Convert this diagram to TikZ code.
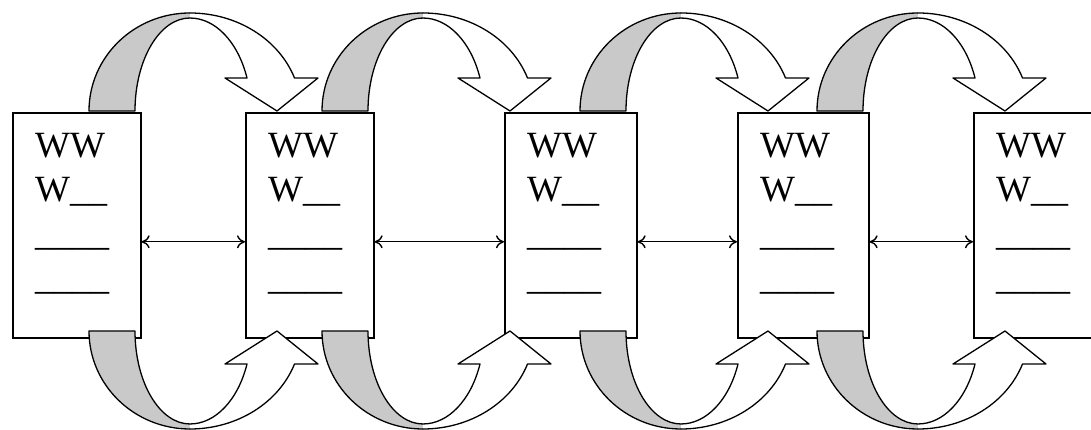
\documentclass[tikz,border=0pt]{standalone}
\usepackage{fontspec}
\setmainfont{Liberation Serif}
\usetikzlibrary{arrows.meta}
\tikzset{
  boxnode/.style={draw, line width=1.6pt, minimum height=225pt, inner sep=0pt, anchor=north west, fill=white},
  txt/.style={anchor=base west, inner sep=0pt, font=\fontsize{37}{44}\selectfont},
  band/.style={line width=1.3pt, line join=round, line cap=round},
  backfill/.style={fill=black!21},
  frontfill/.style={fill=white},
  link/.style={{To[length=8pt,width=13pt]}-{To[length=8pt,width=13pt]}, line width=1.4pt}
}
\newcommand\mycurvedarrow{%
  % back (shaded) part
  \fill[backfill] (0,0) arc[start angle=180,end angle=90,x radius=101,y radius=98]
     -- (101,93) arc[start angle=90,end angle=180,x radius=55,y radius=93] -- cycle;
  \draw[band] (101,98) arc[start angle=90,end angle=180,x radius=101,y radius=98]
     -- (46,0) arc[start angle=180,end angle=90,x radius=55,y radius=93];
  % front part with head
  \fill[frontfill] (101,98) arc[start angle=90,end angle=19.7,x radius=111,y radius=98]
     -- (229,33) -- (188,0) -- (136,33) -- (158,33)
     arc[start angle=20.8,end angle=90,x radius=61,y radius=93] -- cycle;
  \draw[band] (101,98) arc[start angle=90,end angle=19.7,x radius=111,y radius=98]
     -- (229,33) -- (188,0) -- (136,33) -- (158,33)
     arc[start angle=20.8,end angle=90,x radius=61,y radius=93];
}
\begin{document}
\begin{tikzpicture}[x=1pt,y=1pt]
\useasboundingbox (0,0) rectangle (1091,430);
\clip (0,0) rectangle (1091,430);
% boxes
\foreach \i/\l/\w in {1/12/128, 2/245/128, 3/504/132, 4/737/131, 5/973/130}{
  \node[boxnode, minimum width=\w pt] (b\i) at (\l,318) {};
  \node[txt] (t\i a) at (\l+23,272) {WW};
  \node[txt] (t\i b) at (\l+23,228) {W\string_\string_};
  \node[txt] (t\i c) at (\l+23,184) {\string_\string_\string_\string_};
  \node[txt] (t\i d) at (\l+23,140) {\string_\string_\string_\string_};
}
% links
\foreach \i/\j in {1/2,2/3,3/4,4/5}{
  \draw[link] ([yshift=-16.5pt]b\i.east) -- ([yshift=-16.5pt]b\j.west);
}
% curved arrows
\foreach \s in {89,322,580,817}{
  \begin{scope}[shift={(\s,319)}]
    \mycurvedarrow
  \end{scope}
  \begin{scope}[shift={(\s,99)},yscale=-1]
    \mycurvedarrow
  \end{scope}
}
\end{tikzpicture}
\end{document}
